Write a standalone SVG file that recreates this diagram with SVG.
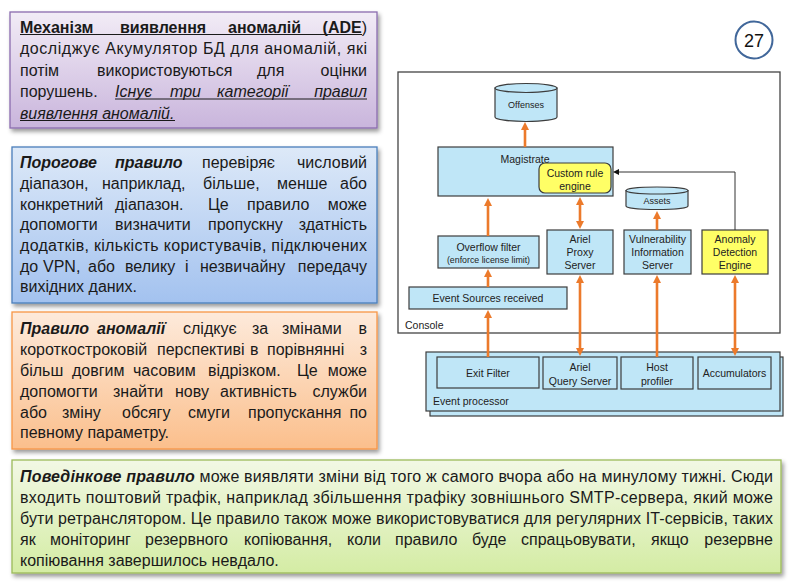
<svg xmlns="http://www.w3.org/2000/svg" width="789" height="585" viewBox="0 0 789 585">
<defs>
<style>
.t{font-family:"Liberation Sans",Arial,sans-serif;font-size:16px;fill:#1a1a1a}
.b{font-weight:bold}
.i{font-style:italic}
.bi{font-weight:bold;font-style:italic}
.e{text-anchor:end}
.ul{stroke:#1a1a1a;stroke-width:1.1}
.d{font-family:"Liberation Sans",Arial,sans-serif;font-size:10.5px;fill:#222;text-anchor:middle}
.s{font-size:9px}
.xs{font-size:8.8px}
.bx{fill:#bfe6f7;stroke:#3d3d3d;stroke-width:1.2}
.yl{fill:#ffff66;stroke:#3d3d3d;stroke-width:1.2}
.ar{stroke:#ec7a2b;stroke-width:2.6;fill:none;marker-end:url(#ah)}
.ar2{stroke:#ec7a2b;stroke-width:2.6;fill:none;marker-end:url(#ah);marker-start:url(#ah)}
</style>
<linearGradient id="gP" x1="0" y1="0" x2="0" y2="1"><stop offset="0" stop-color="#f2ecf6"/><stop offset="1" stop-color="#c9b5dc"/></linearGradient>
<linearGradient id="gB" x1="0" y1="0" x2="0" y2="1"><stop offset="0" stop-color="#dde9f8"/><stop offset="1" stop-color="#a3c2ef"/></linearGradient>
<linearGradient id="gO" x1="0" y1="0" x2="0" y2="1"><stop offset="0" stop-color="#fdeadb"/><stop offset="1" stop-color="#fbbf8c"/></linearGradient>
<linearGradient id="gG" x1="0" y1="0" x2="0" y2="1"><stop offset="0" stop-color="#f2f8e5"/><stop offset="1" stop-color="#d4eca4"/></linearGradient>
<filter id="sh" x="-5%" y="-10%" width="115%" height="130%"><feDropShadow dx="2" dy="3" stdDeviation="2" flood-color="#000" flood-opacity="0.4"/></filter>
<marker id="ah" viewBox="0 0 8 8" markerWidth="8" markerHeight="8" refX="3" refY="4" orient="auto-start-reverse" markerUnits="userSpaceOnUse"><path d="M0,0 L8,4 L0,8 Z" fill="#ec7a2b"/></marker>
<marker id="bh" viewBox="0 0 6 6" markerWidth="6" markerHeight="6" refX="2" refY="3" orient="auto" markerUnits="userSpaceOnUse"><path d="M0,0 L6,3 L0,6 Z" fill="#111"/></marker>
</defs>
<rect width="789" height="585" fill="#fff"/>

<g id="box-ade">
<rect x="10" y="12" width="367" height="116" fill="url(#gP)" stroke="#8a6cae" stroke-width="1.3" filter="url(#sh)"/>
<text class="t" y="32.5"><tspan class="b" x="20">Механізм </tspan><tspan class="b" x="120">виявлення </tspan><tspan class="b" x="228">аномалій </tspan><tspan class="e" x="367"><tspan class="b">(ADE</tspan>)</tspan></text>
<line class="ul" x1="20" y1="34.5" x2="362" y2="34.5"/>
<text class="t" x="20" y="54" textLength="347" lengthAdjust="spacing">досліджує Акумулятор БД для аномалій, які</text>
<text class="t" y="75.5"><tspan x="20">потім </tspan><tspan x="97">використовуються </tspan><tspan x="257">для </tspan><tspan class="e" x="367">оцінки</tspan></text>
<text class="t" y="97"><tspan x="20">порушень. </tspan><tspan class="i" x="115">Існує </tspan><tspan class="i" x="170">три </tspan><tspan class="i" x="217">категорії </tspan><tspan class="i e" x="367">правил</tspan></text>
<line class="ul" x1="115" y1="99" x2="367" y2="99"/>
<text class="t i" x="20" y="118.5">виявлення аномалій.</text>
<line class="ul" x1="20" y1="120.5" x2="175" y2="120.5"/>
</g>

<g id="box-threshold">
<rect x="12" y="147" width="365" height="156" fill="url(#gB)" stroke="#4a7ebb" stroke-width="1.3" filter="url(#sh)"/>
<text class="t" y="168"><tspan class="bi" x="20">Порогове </tspan><tspan class="bi" x="115">правило </tspan><tspan x="202">перевіряє </tspan><tspan class="e" x="367">числовий</tspan></text>
<text class="t" y="189"><tspan x="20">діапазон, </tspan><tspan x="102">наприклад, </tspan><tspan x="203">більше, </tspan><tspan x="277">менше </tspan><tspan class="e" x="367">або</tspan></text>
<text class="t" y="209.5"><tspan x="20">конкретний </tspan><tspan x="115">діапазон. </tspan><tspan x="208">Це </tspan><tspan x="247">правило </tspan><tspan class="e" x="367">може</tspan></text>
<text class="t" y="230"><tspan x="20">допомогти </tspan><tspan x="115">визначити </tspan><tspan x="208">пропускну </tspan><tspan class="e" x="367">здатність</tspan></text>
<text class="t" x="20" y="251" textLength="347" lengthAdjust="spacing">додатків, кількість користувачів, підключених</text>
<text class="t" y="271.5"><tspan x="20">до </tspan><tspan x="43">VPN, </tspan><tspan x="88">або </tspan><tspan x="125">велику </tspan><tspan x="185">і </tspan><tspan x="200">незвичайну </tspan><tspan class="e" x="367">передачу</tspan></text>
<text class="t" x="20" y="292">вихідних даних.</text>
</g>

<g id="box-anomaly">
<rect x="12" y="312" width="365" height="137" fill="url(#gO)" stroke="#f79646" stroke-width="1.3" filter="url(#sh)"/>
<text class="t" y="334"><tspan class="bi" x="20">Правило </tspan><tspan class="bi" x="97">аномалії </tspan><tspan x="183">слідкує </tspan><tspan x="252">за </tspan><tspan x="282">змінами </tspan><tspan class="e" x="367">в</tspan></text>
<text class="t" y="355"><tspan x="20">короткостроковій </tspan><tspan x="157">перспективі </tspan><tspan x="250">в </tspan><tspan x="267">порівнянні </tspan><tspan class="e" x="367">з</tspan></text>
<text class="t" y="376"><tspan x="20">більш </tspan><tspan x="72">довгим </tspan><tspan x="133">часовим </tspan><tspan x="208">відрізком. </tspan><tspan x="297">Це </tspan><tspan class="e" x="367">може</tspan></text>
<text class="t" y="397"><tspan x="20">допомогти </tspan><tspan x="113">знайти </tspan><tspan x="175">нову </tspan><tspan x="220">активність </tspan><tspan class="e" x="367">служби</tspan></text>
<text class="t" y="417.5"><tspan x="20">або </tspan><tspan x="62">зміну </tspan><tspan x="122">обсягу </tspan><tspan x="188">смуги </tspan><tspan x="248">пропускання </tspan><tspan class="e" x="367">по</tspan></text>
<text class="t" x="20" y="438">певному параметру.</text>
</g>

<g id="box-behavior">
<rect x="12" y="460" width="769" height="113" fill="url(#gG)" stroke="#9bbb59" stroke-width="1.3" filter="url(#sh)"/>
<text class="t" x="20" y="482" textLength="753" lengthAdjust="spacing"><tspan class="bi">Поведінкове правило</tspan> може виявляти зміни від того ж самого вчора або на минулому тижні. Сюди</text>
<text class="t" x="20" y="503" textLength="753" lengthAdjust="spacing">входить поштовий трафік, наприклад збільшення трафіку зовнішнього SMTP-сервера, який може</text>
<text class="t" x="20" y="524" textLength="753" lengthAdjust="spacing">бути ретранслятором. Це правило також може використовуватися для регулярних IT-сервісів, таких</text>
<text class="t" y="545"><tspan x="20">як </tspan><tspan x="50">моніторинг </tspan><tspan x="145">резервного </tspan><tspan x="244">копіювання, </tspan><tspan x="347">коли </tspan><tspan x="395">правило </tspan><tspan x="472">буде </tspan><tspan x="521">спрацьовувати, </tspan><tspan x="651">якщо </tspan><tspan class="e" x="773">резервне</tspan></text>
<text class="t" x="20" y="566">копіювання завершилось невдало.</text>
</g>

<g id="page-number">
<circle cx="754" cy="40" r="18.5" fill="#fff" stroke="#41679a" stroke-width="2"/>
<text x="754" y="46.5" text-anchor="middle" font-family="Liberation Sans, Arial, sans-serif" font-size="18" fill="#111">27</text>
</g>

<g id="console">
<rect x="398" y="72" width="382" height="261" fill="#fff" stroke="#444" stroke-width="1.3"/>
<text class="d" x="405" y="329" text-anchor="start" style="text-anchor:start">Console</text>
</g>

<g id="offenses">
<path d="M495,88 V117 A31,4.5 0 0 0 557,117 V88 Z" class="bx"/>
<ellipse cx="526" cy="88" rx="31" ry="4.5" class="bx"/>
<text class="d s" x="526" y="108">Offenses</text>
</g>

<g id="magistrate">
<rect x="438" y="147" width="175" height="49" class="bx"/>
<text class="d" x="525" y="163">Magistrate</text>
</g>

<g id="custom-rule-engine">
<rect x="539" y="163" width="72" height="30" rx="6" class="yl"/>
<text class="d" x="575" y="176.5">Custom rule</text>
<text class="d" x="575" y="189.5">engine</text>
</g>

<g id="assets">
<path d="M626,190.5 V206 A31,3.5 0 0 0 688,206 V190.5 Z" class="bx"/>
<ellipse cx="657" cy="190.5" rx="31" ry="3.5" class="bx"/>
<text class="d s" x="657" y="204">Assets</text>
</g>

<g id="overflow-filter">
<rect x="438" y="236" width="101" height="32" class="bx"/>
<text class="d" x="488.5" y="251">Overflow filter</text>
<text class="d xs" x="488.5" y="262.5">(enforce license limit)</text>
</g>

<g id="ariel-proxy">
<rect x="547" y="230" width="66" height="44" class="bx"/>
<text class="d" x="580" y="243">Ariel</text>
<text class="d" x="580" y="256">Proxy</text>
<text class="d" x="580" y="269">Server</text>
</g>

<g id="vis">
<rect x="624" y="230" width="67" height="44" class="bx"/>
<text class="d" x="657.5" y="243">Vulnerability</text>
<text class="d" x="657.5" y="256">Information</text>
<text class="d" x="657.5" y="269">Server</text>
</g>

<g id="ade">
<rect x="702" y="230" width="66" height="44" class="yl"/>
<text class="d" x="735" y="243">Anomaly</text>
<text class="d" x="735" y="256">Detection</text>
<text class="d" x="735" y="269">Engine</text>
</g>

<g id="event-sources">
<rect x="409" y="287" width="158" height="22" class="bx"/>
<text class="d" x="488" y="302">Event Sources received</text>
</g>

<g id="event-processor">
<rect x="430" y="357" width="353" height="59" class="bx"/>
<rect x="426" y="352" width="354" height="59" class="bx"/>
<text class="d" x="433" y="404.5" style="text-anchor:start">Event processor</text>
</g>

<g id="exit-filter">
<rect x="437" y="357" width="102" height="31" class="bx"/>
<text class="d" x="488" y="377">Exit Filter</text>
</g>

<g id="ariel-query">
<rect x="543" y="357" width="74" height="32" class="bx"/>
<text class="d" x="580" y="371">Ariel</text>
<text class="d" x="580" y="384.5">Query Server</text>
</g>

<g id="host-profiler">
<rect x="621" y="357" width="72" height="32" class="bx"/>
<text class="d" x="657" y="371">Host</text>
<text class="d" x="657" y="384.5">profiler</text>
</g>

<g id="accumulators">
<rect x="698" y="357" width="73" height="32" class="bx"/>
<text class="d" x="734.5" y="377">Accumulators</text>
</g>

<g id="connectors">
<line class="ar" x1="525" y1="147" x2="525" y2="127"/>
<line class="ar" x1="488" y1="236" x2="488" y2="203"/>
<line class="ar2" x1="580" y1="202" x2="580" y2="224"/>
<line class="ar" x1="657" y1="230" x2="657" y2="216"/>
<line class="ar" x1="488" y1="287" x2="488" y2="274"/>
<line class="ar" x1="488" y1="357" x2="488" y2="315"/>
<line class="ar2" x1="580" y1="280" x2="580" y2="351"/>
<line class="ar" x1="657" y1="357" x2="657" y2="280"/>
<line class="ar2" x1="735" y1="280" x2="735" y2="351"/>
<polyline points="735,230 735,172 617,172" fill="none" stroke="#333" stroke-width="1" marker-end="url(#bh)"/>
</g>
</svg>
